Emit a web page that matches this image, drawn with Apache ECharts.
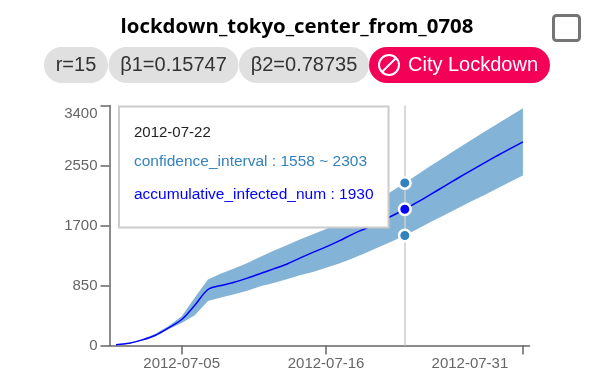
<!DOCTYPE html>
<html>
<head>
<meta charset="utf-8">
<style>html,body{margin:0;padding:0;background:#fff}#c{width:590px;height:375px}</style>
<script src="https://cdn.jsdelivr.net/npm/echarts@6/dist/echarts.min.js"></script>
</head>
<body>
<div id="c"></div>
<script>
const titleText = 'lockdown_tokyo_center_from_0708';
const chipLabels = ['r=15', 'β1=0.15747', 'β2=0.78735'];
const lockdownLabel = 'City Lockdown';
const dates = ['2012-06-30','2012-07-01','2012-07-02','2012-07-03','2012-07-04','2012-07-05','2012-07-06','2012-07-07','2012-07-08','2012-07-09','2012-07-10','2012-07-11','2012-07-12','2012-07-13','2012-07-14','2012-07-15','2012-07-16','2012-07-17','2012-07-18','2012-07-19','2012-07-20','2012-07-21','2012-07-22','2012-07-23','2012-07-24','2012-07-25','2012-07-26','2012-07-27','2012-07-28','2012-07-29','2012-07-30','2012-07-31'];
const infected = [12,33,80,146,250,368,571,793,850,895,955,1020,1086,1152,1238,1320,1397,1482,1575,1658,1745,1835,1930,2035,2144,2255,2366,2474,2580,2685,2786,2885];
const upperBound = [13,36,88,165,278,415,680,935,1020,1091,1170,1256,1341,1421,1502,1577,1652,1740,1840,1950,2070,2185,2303,2427,2550,2668,2786,2905,3022,3136,3249,3362];
const lowerBound = [11,30,72,130,231,320,429,632,680,727,774,840,887,939,996,1043,1100,1162,1233,1312,1393,1475,1558,1655,1752,1846,1941,2035,2125,2219,2315,2409];
const labelledDates = ['2012-07-05','2012-07-16','2012-07-31'];
const yTickStep = 850;
const yMax = 3400;
const hoverDate = '2012-07-22';
const hoverValues = {low: 1558, high: 2303, mid: 1930};

const hoverIdx = dates.indexOf(hoverDate);
const onlyHover = arr => arr.map((v, i) => i === hoverIdx ? v : null);
const FONT = '"Liberation Sans", Arial, sans-serif';
const BLUE = '#3182bd';

const chipBoxes = [[44, 64], [108.5, 130], [239, 130]];
const graphic = [];
graphic.push({type:'rect', z:50, shape:{x:553.5,y:15.5,width:26,height:25,r:3}, style:{fill:'none',stroke:'#757575',lineWidth:3}});
chipLabels.forEach((t, i) => {
  const [x, w] = chipBoxes[i];
  graphic.push({type:'rect', z:50, shape:{x, y:47, width:w, height:36, r:18}, style:{fill:'#e0e0e0'}});
  graphic.push({type:'text', z:51, x:x+w/2, y:65, style:{text:t, font:'20px '+FONT, fill:'#333', align:'center', verticalAlign:'middle'}});
});
graphic.push({type:'rect', z:50, shape:{x:369, y:47, width:181, height:36, r:18}, style:{fill:'#f50057'}});
graphic.push({type:'circle', z:51, shape:{cx:389, cy:65, r:10}, style:{fill:'none', stroke:'#fff', lineWidth:2}});
graphic.push({type:'line', z:51, shape:{x1:382, y1:72, x2:396, y2:58}, style:{stroke:'#fff', lineWidth:2}});
graphic.push({type:'text', z:51, x:408, y:65, style:{text:lockdownLabel, font:'20px '+FONT, fill:'#fff', align:'left', verticalAlign:'middle'}});
graphic.push({type:'rect', z:60, shape:{x:119, y:106.5, width:269.5, height:121}, style:{fill:'#fff', stroke:'#ccc', lineWidth:2}});
graphic.push({type:'text', z:61, x:134, y:133, style:{text:hoverDate, font:'15px '+FONT, fill:'#222', verticalAlign:'middle'}});
graphic.push({type:'text', z:61, x:134, y:162, style:{text:`confidence_interval : ${hoverValues.low} ~ ${hoverValues.high}`, font:'15.5px '+FONT, fill:BLUE, verticalAlign:'middle'}});
graphic.push({type:'text', z:61, x:134, y:195, style:{text:`accumulative_infected_num : ${hoverValues.mid}`, font:'15.5px '+FONT, fill:'#0000ff', verticalAlign:'middle'}});

const chart = echarts.init(document.getElementById('c'), null, {renderer:'canvas'});
const isLabelled = i => labelledDates.includes(dates[i]);
chart.setOption({
  animation:false,
  backgroundColor:'#fff',
  title:{text:titleText, left:292, top:12, textAlign:'center', textStyle:{fontFamily:'"Open Sans", "Noto Sans", sans-serif', fontSize:20.4, fontWeight:'bold', color:'#000'}},
  grid:{left:109.5, right:60.5, top:105.5, bottom:29.5, containLabel:false},
  xAxis:{
    type:'category', data:dates, boundaryGap:true,
    axisLine:{show:true, lineStyle:{color:'#666', width:1.5}},
    axisTick:{show:true, alignWithLabel:true, length:9, lineStyle:{color:'#666', width:1.5}, interval:i => isLabelled(i)},
    axisLabel:{
      color:'#666', fontFamily:FONT, fontSize:15, margin:11, hideOverlap:false, showMaxLabel:true,
      interval:i => isLabelled(i),
      formatter:v => v === dates[dates.length-1] ? `{last|${v}}` : v,
      rich:{last:{color:'#666', fontFamily:FONT, fontSize:15, padding:[0,106,0,0]}}
    }
  },
  yAxis:{
    type:'value', min:0, max:yMax, interval:yTickStep,
    splitLine:{show:false},
    axisLine:{show:true, lineStyle:{color:'#666', width:1.5}},
    axisTick:{show:true, length:9, lineStyle:{color:'#666', width:1.5}},
    axisLabel:{color:'#666', fontFamily:FONT, fontSize:15, margin:12,
      formatter:v => v === yMax ? `{top|${v}}` : String(v),
      rich:{top:{color:'#666', fontFamily:FONT, fontSize:15, padding:[16,0,0,0]}}}
  },
  graphic,
  series:[
    {name:'lower', type:'line', stack:'band', data:lowerBound, symbol:'none', lineStyle:{width:0}, areaStyle:{opacity:0}, silent:true},
    {name:'confidence_interval', type:'line', stack:'band', data:upperBound.map((v,i)=>v-lowerBound[i]), symbol:'none', lineStyle:{width:0}, areaStyle:{color:BLUE, opacity:0.6}, silent:true},
    {name:'accumulative_infected_num', type:'line', data:infected, symbol:'none', smooth:0.3, lineStyle:{color:'#0000ff', width:1.5}, silent:true, z:3,
      markLine:{silent:true, symbol:'none', label:{show:false}, lineStyle:{color:'#ccc', width:1.5, type:'solid'}, animation:false, data:[{xAxis:hoverDate}]}},
    {type:'scatter', data:onlyHover(upperBound), symbolSize:11.5, z:5, silent:true, itemStyle:{color:BLUE, borderColor:'#fff', borderWidth:2.5, opacity:1}},
    {type:'scatter', data:onlyHover(lowerBound), symbolSize:11.5, z:5, silent:true, itemStyle:{color:BLUE, borderColor:'#fff', borderWidth:2.5, opacity:1}},
    {type:'scatter', data:onlyHover(infected), symbolSize:11.5, z:5, silent:true, itemStyle:{color:'#0000ff', borderColor:'#fff', borderWidth:2.5, opacity:1}}
  ]
});
</script>
</body>
</html>
